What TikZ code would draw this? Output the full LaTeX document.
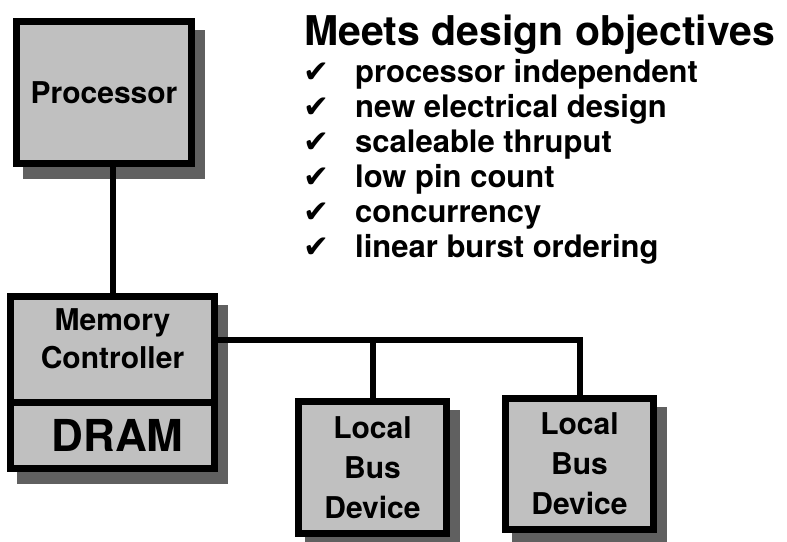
\documentclass[tikz,border=0pt]{standalone}
\usepackage{fontspec}
\setmainfont{TeX Gyre Heros}
\newfontfamily\symfont{DejaVu Sans}
\usetikzlibrary{positioning,shadows}
\definecolor{BoxGray}{HTML}{C0C0C0}
\definecolor{ShadowGray}{HTML}{606060}

\begin{document}
\begin{tikzpicture}[x=1pt, y=-1pt,
    unit/.style={draw, line width=7pt, fill=BoxGray, align=center, inner sep=0pt,
        font=\fontsize{30}{38}\selectfont\bfseries,
        drop shadow={fill=ShadowGray, draw=ShadowGray, line width=7pt, opacity=1,
            shadow xshift=10pt, shadow yshift=-12pt}},
    wire/.style={line width=6pt},
    item/.style={anchor=base west, inner sep=0pt, font=\fontsize{31}{36}\selectfont\bfseries},
    tick/.style={anchor=base west, inner sep=0pt, font=\fontsize{31}{36}\symfont}]
    \useasboundingbox (0,0) rectangle (787,541);

    % Title
    \node[anchor=base west, inner sep=0pt, font=\fontsize{41}{48}\selectfont\bfseries] (title) at (304,45) {Meets design objectives};

    % Objectives
    \foreach \txt [count=\k] in {processor independent, new electrical design, scaleable thruput, low pin count, concurrency, linear burst ordering}{
        \node[tick] (chk\k) at ({303},{47+35*\k}) {✔};
        \node[item] (obj\k) at ({355},{47+35*\k}) {\txt};
    }

    % Processor
    \node[unit, minimum width=175pt, minimum height=142pt] (proc) at (104,92.5) {Processor};

    % Memory controller with DRAM
    \node[unit, minimum width=204pt, minimum height=105.5pt, text depth=22pt] (memctl) at (112.5,349.25) {Memory\\Controller};
    \node[unit, minimum width=204pt, minimum height=66.5pt, font=\fontsize{44}{48}\selectfont\bfseries, below=-7pt of memctl] (dram) {\hspace{10pt}DRAM};

    % Local bus devices
    \node[unit, minimum width=148pt, minimum height=132pt, font=\fontsize{30}{40}\selectfont\bfseries] (lbd1) at (372.5,467.5) {Local\\Bus\\Device};
    \node[unit, minimum width=148pt, minimum height=131pt, font=\fontsize{30}{40}\selectfont\bfseries] (lbd2) at (579.5,464) {Local\\Bus\\Device};

    % Connections
    \coordinate (tap) at (214.5,340);
    \draw[wire] (proc.south -| memctl.north) -- (memctl.north);
    \draw[wire] (tap) -- (tap -| lbd2) -- (lbd2.north);
    \draw[wire] (lbd1 |- tap) -- (lbd1.north);

\end{tikzpicture}
\end{document}
